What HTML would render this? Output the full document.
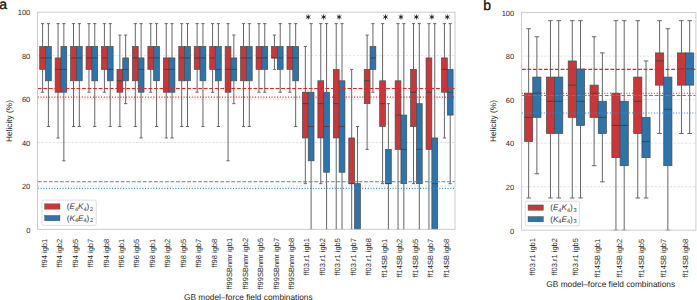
<!DOCTYPE html>
<html><head><meta charset="utf-8"><style>
html,body{margin:0;padding:0;background:#fff;width:697px;height:300px;overflow:hidden}
svg{display:block}
text{font-family:"Liberation Sans",sans-serif;fill:#262626;text-rendering:geometricPrecision;font-variant-ligatures:none}
.tk{font-size:7.5px}
.at{font-size:8.3px}
.lg{font-size:8.1px;fill:#333}
.sb{font-size:5.6px}
.pl{font-size:14px;fill:#111;stroke:#111;stroke-width:0.35px}
.st{font-size:11px;fill:#222}
</style></head><body>
<svg width="697" height="300" viewBox="0 0 697 300">
<rect width="697" height="300" fill="#fff"/>
<text x="-0.7" y="8.6" class="pl">a</text>
<text x="483.3" y="9.6" class="pl">b</text>
<line x1="37.50" y1="185.96" x2="455.00" y2="185.96" stroke="#dddddd" stroke-width="0.9" stroke-dasharray="2.3 1.5"/>
<line x1="37.50" y1="142.52" x2="455.00" y2="142.52" stroke="#dddddd" stroke-width="0.9" stroke-dasharray="2.3 1.5"/>
<line x1="37.50" y1="99.08" x2="455.00" y2="99.08" stroke="#dddddd" stroke-width="0.9" stroke-dasharray="2.3 1.5"/>
<line x1="37.50" y1="55.64" x2="455.00" y2="55.64" stroke="#dddddd" stroke-width="0.9" stroke-dasharray="2.3 1.5"/>
<line x1="42.60" y1="23.63" x2="42.60" y2="46.49" stroke="#666666" stroke-width="1"/>
<line x1="42.60" y1="69.36" x2="42.60" y2="92.22" stroke="#666666" stroke-width="1"/>
<line x1="41.00" y1="23.63" x2="44.20" y2="23.63" stroke="#666666" stroke-width="1"/>
<line x1="41.00" y1="92.22" x2="44.20" y2="92.22" stroke="#666666" stroke-width="1"/>
<rect x="39.70" y="46.49" width="5.80" height="22.86" fill="#c8383a" stroke="#4a4a4a" stroke-width="0.7"/>
<line x1="39.70" y1="57.93" x2="45.50" y2="57.93" stroke="#3f3f3f" stroke-width="0.9"/>
<line x1="48.40" y1="23.63" x2="48.40" y2="46.49" stroke="#666666" stroke-width="1"/>
<line x1="48.40" y1="80.79" x2="48.40" y2="126.52" stroke="#666666" stroke-width="1"/>
<line x1="46.80" y1="23.63" x2="50.00" y2="23.63" stroke="#666666" stroke-width="1"/>
<line x1="46.80" y1="126.52" x2="50.00" y2="126.52" stroke="#666666" stroke-width="1"/>
<rect x="45.50" y="46.49" width="5.80" height="34.29" fill="#2d74ab" stroke="#4a4a4a" stroke-width="0.7"/>
<line x1="45.50" y1="57.93" x2="51.30" y2="57.93" stroke="#3f3f3f" stroke-width="0.9"/>
<line x1="58.05" y1="23.63" x2="58.05" y2="57.93" stroke="#666666" stroke-width="1"/>
<line x1="58.05" y1="92.22" x2="58.05" y2="137.95" stroke="#666666" stroke-width="1"/>
<line x1="56.45" y1="23.63" x2="59.65" y2="23.63" stroke="#666666" stroke-width="1"/>
<line x1="56.45" y1="137.95" x2="59.65" y2="137.95" stroke="#666666" stroke-width="1"/>
<rect x="55.15" y="57.93" width="5.80" height="34.29" fill="#c8383a" stroke="#4a4a4a" stroke-width="0.7"/>
<line x1="55.15" y1="69.36" x2="60.95" y2="69.36" stroke="#3f3f3f" stroke-width="0.9"/>
<line x1="63.85" y1="23.63" x2="63.85" y2="46.49" stroke="#666666" stroke-width="1"/>
<line x1="63.85" y1="92.22" x2="63.85" y2="160.81" stroke="#666666" stroke-width="1"/>
<line x1="62.25" y1="23.63" x2="65.45" y2="23.63" stroke="#666666" stroke-width="1"/>
<line x1="62.25" y1="160.81" x2="65.45" y2="160.81" stroke="#666666" stroke-width="1"/>
<rect x="60.95" y="46.49" width="5.80" height="45.73" fill="#2d74ab" stroke="#4a4a4a" stroke-width="0.7"/>
<line x1="60.95" y1="69.36" x2="66.75" y2="69.36" stroke="#3f3f3f" stroke-width="0.9"/>
<line x1="73.51" y1="23.63" x2="73.51" y2="46.49" stroke="#666666" stroke-width="1"/>
<line x1="73.51" y1="80.79" x2="73.51" y2="126.52" stroke="#666666" stroke-width="1"/>
<line x1="71.91" y1="23.63" x2="75.11" y2="23.63" stroke="#666666" stroke-width="1"/>
<line x1="71.91" y1="126.52" x2="75.11" y2="126.52" stroke="#666666" stroke-width="1"/>
<rect x="70.61" y="46.49" width="5.80" height="34.29" fill="#c8383a" stroke="#4a4a4a" stroke-width="0.7"/>
<line x1="70.61" y1="57.93" x2="76.41" y2="57.93" stroke="#3f3f3f" stroke-width="0.9"/>
<line x1="79.31" y1="23.63" x2="79.31" y2="46.49" stroke="#666666" stroke-width="1"/>
<line x1="79.31" y1="80.79" x2="79.31" y2="126.52" stroke="#666666" stroke-width="1"/>
<line x1="77.71" y1="23.63" x2="80.91" y2="23.63" stroke="#666666" stroke-width="1"/>
<line x1="77.71" y1="126.52" x2="80.91" y2="126.52" stroke="#666666" stroke-width="1"/>
<rect x="76.41" y="46.49" width="5.80" height="34.29" fill="#2d74ab" stroke="#4a4a4a" stroke-width="0.7"/>
<line x1="76.41" y1="57.93" x2="82.21" y2="57.93" stroke="#3f3f3f" stroke-width="0.9"/>
<line x1="88.96" y1="23.63" x2="88.96" y2="46.49" stroke="#666666" stroke-width="1"/>
<line x1="88.96" y1="69.36" x2="88.96" y2="92.22" stroke="#666666" stroke-width="1"/>
<line x1="87.36" y1="23.63" x2="90.56" y2="23.63" stroke="#666666" stroke-width="1"/>
<line x1="87.36" y1="92.22" x2="90.56" y2="92.22" stroke="#666666" stroke-width="1"/>
<rect x="86.06" y="46.49" width="5.80" height="22.86" fill="#c8383a" stroke="#4a4a4a" stroke-width="0.7"/>
<line x1="86.06" y1="57.93" x2="91.86" y2="57.93" stroke="#3f3f3f" stroke-width="0.9"/>
<line x1="94.76" y1="23.63" x2="94.76" y2="46.49" stroke="#666666" stroke-width="1"/>
<line x1="94.76" y1="80.79" x2="94.76" y2="126.52" stroke="#666666" stroke-width="1"/>
<line x1="93.16" y1="23.63" x2="96.36" y2="23.63" stroke="#666666" stroke-width="1"/>
<line x1="93.16" y1="126.52" x2="96.36" y2="126.52" stroke="#666666" stroke-width="1"/>
<rect x="91.86" y="46.49" width="5.80" height="34.29" fill="#2d74ab" stroke="#4a4a4a" stroke-width="0.7"/>
<line x1="91.86" y1="57.93" x2="97.66" y2="57.93" stroke="#3f3f3f" stroke-width="0.9"/>
<line x1="104.42" y1="23.63" x2="104.42" y2="46.49" stroke="#666666" stroke-width="1"/>
<line x1="104.42" y1="69.36" x2="104.42" y2="92.22" stroke="#666666" stroke-width="1"/>
<line x1="102.82" y1="23.63" x2="106.02" y2="23.63" stroke="#666666" stroke-width="1"/>
<line x1="102.82" y1="92.22" x2="106.02" y2="92.22" stroke="#666666" stroke-width="1"/>
<rect x="101.52" y="46.49" width="5.80" height="22.86" fill="#c8383a" stroke="#4a4a4a" stroke-width="0.7"/>
<line x1="101.52" y1="57.93" x2="107.32" y2="57.93" stroke="#3f3f3f" stroke-width="0.9"/>
<line x1="110.22" y1="23.63" x2="110.22" y2="46.49" stroke="#666666" stroke-width="1"/>
<line x1="110.22" y1="80.79" x2="110.22" y2="126.52" stroke="#666666" stroke-width="1"/>
<line x1="108.62" y1="23.63" x2="111.82" y2="23.63" stroke="#666666" stroke-width="1"/>
<line x1="108.62" y1="126.52" x2="111.82" y2="126.52" stroke="#666666" stroke-width="1"/>
<rect x="107.32" y="46.49" width="5.80" height="34.29" fill="#2d74ab" stroke="#4a4a4a" stroke-width="0.7"/>
<line x1="107.32" y1="69.36" x2="113.12" y2="69.36" stroke="#3f3f3f" stroke-width="0.9"/>
<line x1="119.87" y1="35.06" x2="119.87" y2="69.36" stroke="#666666" stroke-width="1"/>
<line x1="119.87" y1="92.22" x2="119.87" y2="126.52" stroke="#666666" stroke-width="1"/>
<line x1="118.27" y1="35.06" x2="121.47" y2="35.06" stroke="#666666" stroke-width="1"/>
<line x1="118.27" y1="126.52" x2="121.47" y2="126.52" stroke="#666666" stroke-width="1"/>
<rect x="116.97" y="69.36" width="5.80" height="22.86" fill="#c8383a" stroke="#4a4a4a" stroke-width="0.7"/>
<line x1="116.97" y1="80.79" x2="122.77" y2="80.79" stroke="#3f3f3f" stroke-width="0.9"/>
<line x1="125.67" y1="35.06" x2="125.67" y2="57.93" stroke="#666666" stroke-width="1"/>
<line x1="125.67" y1="80.79" x2="125.67" y2="103.65" stroke="#666666" stroke-width="1"/>
<line x1="124.07" y1="35.06" x2="127.27" y2="35.06" stroke="#666666" stroke-width="1"/>
<line x1="124.07" y1="103.65" x2="127.27" y2="103.65" stroke="#666666" stroke-width="1"/>
<rect x="122.77" y="57.93" width="5.80" height="22.86" fill="#2d74ab" stroke="#4a4a4a" stroke-width="0.7"/>
<line x1="122.77" y1="69.36" x2="128.57" y2="69.36" stroke="#3f3f3f" stroke-width="0.9"/>
<line x1="135.32" y1="23.63" x2="135.32" y2="46.49" stroke="#666666" stroke-width="1"/>
<line x1="135.32" y1="80.79" x2="135.32" y2="126.52" stroke="#666666" stroke-width="1"/>
<line x1="133.72" y1="23.63" x2="136.92" y2="23.63" stroke="#666666" stroke-width="1"/>
<line x1="133.72" y1="126.52" x2="136.92" y2="126.52" stroke="#666666" stroke-width="1"/>
<rect x="132.42" y="46.49" width="5.80" height="34.29" fill="#c8383a" stroke="#4a4a4a" stroke-width="0.7"/>
<line x1="132.42" y1="57.93" x2="138.22" y2="57.93" stroke="#3f3f3f" stroke-width="0.9"/>
<line x1="141.12" y1="23.63" x2="141.12" y2="57.93" stroke="#666666" stroke-width="1"/>
<line x1="141.12" y1="92.22" x2="141.12" y2="137.95" stroke="#666666" stroke-width="1"/>
<line x1="139.52" y1="23.63" x2="142.72" y2="23.63" stroke="#666666" stroke-width="1"/>
<line x1="139.52" y1="137.95" x2="142.72" y2="137.95" stroke="#666666" stroke-width="1"/>
<rect x="138.22" y="57.93" width="5.80" height="34.29" fill="#2d74ab" stroke="#4a4a4a" stroke-width="0.7"/>
<line x1="138.22" y1="69.36" x2="144.02" y2="69.36" stroke="#3f3f3f" stroke-width="0.9"/>
<line x1="150.78" y1="23.63" x2="150.78" y2="46.49" stroke="#666666" stroke-width="1"/>
<line x1="150.78" y1="69.36" x2="150.78" y2="92.22" stroke="#666666" stroke-width="1"/>
<line x1="149.18" y1="23.63" x2="152.38" y2="23.63" stroke="#666666" stroke-width="1"/>
<line x1="149.18" y1="92.22" x2="152.38" y2="92.22" stroke="#666666" stroke-width="1"/>
<rect x="147.88" y="46.49" width="5.80" height="22.86" fill="#c8383a" stroke="#4a4a4a" stroke-width="0.7"/>
<line x1="147.88" y1="57.93" x2="153.68" y2="57.93" stroke="#3f3f3f" stroke-width="0.9"/>
<line x1="156.58" y1="23.63" x2="156.58" y2="46.49" stroke="#666666" stroke-width="1"/>
<line x1="156.58" y1="80.79" x2="156.58" y2="126.52" stroke="#666666" stroke-width="1"/>
<line x1="154.98" y1="23.63" x2="158.18" y2="23.63" stroke="#666666" stroke-width="1"/>
<line x1="154.98" y1="126.52" x2="158.18" y2="126.52" stroke="#666666" stroke-width="1"/>
<rect x="153.68" y="46.49" width="5.80" height="34.29" fill="#2d74ab" stroke="#4a4a4a" stroke-width="0.7"/>
<line x1="153.68" y1="57.93" x2="159.48" y2="57.93" stroke="#3f3f3f" stroke-width="0.9"/>
<line x1="166.23" y1="23.63" x2="166.23" y2="57.93" stroke="#666666" stroke-width="1"/>
<line x1="166.23" y1="92.22" x2="166.23" y2="137.95" stroke="#666666" stroke-width="1"/>
<line x1="164.63" y1="23.63" x2="167.83" y2="23.63" stroke="#666666" stroke-width="1"/>
<line x1="164.63" y1="137.95" x2="167.83" y2="137.95" stroke="#666666" stroke-width="1"/>
<rect x="163.33" y="57.93" width="5.80" height="34.29" fill="#c8383a" stroke="#4a4a4a" stroke-width="0.7"/>
<line x1="163.33" y1="69.36" x2="169.13" y2="69.36" stroke="#3f3f3f" stroke-width="0.9"/>
<line x1="172.03" y1="23.63" x2="172.03" y2="57.93" stroke="#666666" stroke-width="1"/>
<line x1="172.03" y1="92.22" x2="172.03" y2="137.95" stroke="#666666" stroke-width="1"/>
<line x1="170.43" y1="23.63" x2="173.63" y2="23.63" stroke="#666666" stroke-width="1"/>
<line x1="170.43" y1="137.95" x2="173.63" y2="137.95" stroke="#666666" stroke-width="1"/>
<rect x="169.13" y="57.93" width="5.80" height="34.29" fill="#2d74ab" stroke="#4a4a4a" stroke-width="0.7"/>
<line x1="169.13" y1="69.36" x2="174.93" y2="69.36" stroke="#3f3f3f" stroke-width="0.9"/>
<line x1="181.69" y1="23.63" x2="181.69" y2="46.49" stroke="#666666" stroke-width="1"/>
<line x1="181.69" y1="80.79" x2="181.69" y2="126.52" stroke="#666666" stroke-width="1"/>
<line x1="180.09" y1="23.63" x2="183.29" y2="23.63" stroke="#666666" stroke-width="1"/>
<line x1="180.09" y1="126.52" x2="183.29" y2="126.52" stroke="#666666" stroke-width="1"/>
<rect x="178.79" y="46.49" width="5.80" height="34.29" fill="#c8383a" stroke="#4a4a4a" stroke-width="0.7"/>
<line x1="178.79" y1="57.93" x2="184.59" y2="57.93" stroke="#3f3f3f" stroke-width="0.9"/>
<line x1="187.49" y1="23.63" x2="187.49" y2="46.49" stroke="#666666" stroke-width="1"/>
<line x1="187.49" y1="80.79" x2="187.49" y2="126.52" stroke="#666666" stroke-width="1"/>
<line x1="185.89" y1="23.63" x2="189.09" y2="23.63" stroke="#666666" stroke-width="1"/>
<line x1="185.89" y1="126.52" x2="189.09" y2="126.52" stroke="#666666" stroke-width="1"/>
<rect x="184.59" y="46.49" width="5.80" height="34.29" fill="#2d74ab" stroke="#4a4a4a" stroke-width="0.7"/>
<line x1="184.59" y1="57.93" x2="190.39" y2="57.93" stroke="#3f3f3f" stroke-width="0.9"/>
<line x1="197.14" y1="23.63" x2="197.14" y2="46.49" stroke="#666666" stroke-width="1"/>
<line x1="197.14" y1="69.36" x2="197.14" y2="92.22" stroke="#666666" stroke-width="1"/>
<line x1="195.54" y1="23.63" x2="198.74" y2="23.63" stroke="#666666" stroke-width="1"/>
<line x1="195.54" y1="92.22" x2="198.74" y2="92.22" stroke="#666666" stroke-width="1"/>
<rect x="194.24" y="46.49" width="5.80" height="22.86" fill="#c8383a" stroke="#4a4a4a" stroke-width="0.7"/>
<line x1="194.24" y1="57.93" x2="200.04" y2="57.93" stroke="#3f3f3f" stroke-width="0.9"/>
<line x1="202.94" y1="23.63" x2="202.94" y2="46.49" stroke="#666666" stroke-width="1"/>
<line x1="202.94" y1="80.79" x2="202.94" y2="126.52" stroke="#666666" stroke-width="1"/>
<line x1="201.34" y1="23.63" x2="204.54" y2="23.63" stroke="#666666" stroke-width="1"/>
<line x1="201.34" y1="126.52" x2="204.54" y2="126.52" stroke="#666666" stroke-width="1"/>
<rect x="200.04" y="46.49" width="5.80" height="34.29" fill="#2d74ab" stroke="#4a4a4a" stroke-width="0.7"/>
<line x1="200.04" y1="57.93" x2="205.84" y2="57.93" stroke="#3f3f3f" stroke-width="0.9"/>
<line x1="212.59" y1="23.63" x2="212.59" y2="46.49" stroke="#666666" stroke-width="1"/>
<line x1="212.59" y1="69.36" x2="212.59" y2="92.22" stroke="#666666" stroke-width="1"/>
<line x1="210.99" y1="23.63" x2="214.19" y2="23.63" stroke="#666666" stroke-width="1"/>
<line x1="210.99" y1="92.22" x2="214.19" y2="92.22" stroke="#666666" stroke-width="1"/>
<rect x="209.69" y="46.49" width="5.80" height="22.86" fill="#c8383a" stroke="#4a4a4a" stroke-width="0.7"/>
<line x1="209.69" y1="57.93" x2="215.49" y2="57.93" stroke="#3f3f3f" stroke-width="0.9"/>
<line x1="218.39" y1="23.63" x2="218.39" y2="46.49" stroke="#666666" stroke-width="1"/>
<line x1="218.39" y1="80.79" x2="218.39" y2="126.52" stroke="#666666" stroke-width="1"/>
<line x1="216.79" y1="23.63" x2="219.99" y2="23.63" stroke="#666666" stroke-width="1"/>
<line x1="216.79" y1="126.52" x2="219.99" y2="126.52" stroke="#666666" stroke-width="1"/>
<rect x="215.49" y="46.49" width="5.80" height="34.29" fill="#2d74ab" stroke="#4a4a4a" stroke-width="0.7"/>
<line x1="215.49" y1="69.36" x2="221.29" y2="69.36" stroke="#3f3f3f" stroke-width="0.9"/>
<line x1="228.05" y1="23.63" x2="228.05" y2="46.49" stroke="#666666" stroke-width="1"/>
<line x1="228.05" y1="92.22" x2="228.05" y2="160.81" stroke="#666666" stroke-width="1"/>
<line x1="226.45" y1="23.63" x2="229.65" y2="23.63" stroke="#666666" stroke-width="1"/>
<line x1="226.45" y1="160.81" x2="229.65" y2="160.81" stroke="#666666" stroke-width="1"/>
<rect x="225.15" y="46.49" width="5.80" height="45.73" fill="#c8383a" stroke="#4a4a4a" stroke-width="0.7"/>
<line x1="225.15" y1="69.36" x2="230.95" y2="69.36" stroke="#3f3f3f" stroke-width="0.9"/>
<line x1="233.85" y1="35.06" x2="233.85" y2="57.93" stroke="#666666" stroke-width="1"/>
<line x1="233.85" y1="80.79" x2="233.85" y2="103.65" stroke="#666666" stroke-width="1"/>
<line x1="232.25" y1="35.06" x2="235.45" y2="35.06" stroke="#666666" stroke-width="1"/>
<line x1="232.25" y1="103.65" x2="235.45" y2="103.65" stroke="#666666" stroke-width="1"/>
<rect x="230.95" y="57.93" width="5.80" height="22.86" fill="#2d74ab" stroke="#4a4a4a" stroke-width="0.7"/>
<line x1="230.95" y1="69.36" x2="236.75" y2="69.36" stroke="#3f3f3f" stroke-width="0.9"/>
<line x1="243.50" y1="23.63" x2="243.50" y2="46.49" stroke="#666666" stroke-width="1"/>
<line x1="243.50" y1="80.79" x2="243.50" y2="126.52" stroke="#666666" stroke-width="1"/>
<line x1="241.90" y1="23.63" x2="245.10" y2="23.63" stroke="#666666" stroke-width="1"/>
<line x1="241.90" y1="126.52" x2="245.10" y2="126.52" stroke="#666666" stroke-width="1"/>
<rect x="240.60" y="46.49" width="5.80" height="34.29" fill="#c8383a" stroke="#4a4a4a" stroke-width="0.7"/>
<line x1="240.60" y1="57.93" x2="246.40" y2="57.93" stroke="#3f3f3f" stroke-width="0.9"/>
<line x1="249.30" y1="23.63" x2="249.30" y2="46.49" stroke="#666666" stroke-width="1"/>
<line x1="249.30" y1="80.79" x2="249.30" y2="126.52" stroke="#666666" stroke-width="1"/>
<line x1="247.70" y1="23.63" x2="250.90" y2="23.63" stroke="#666666" stroke-width="1"/>
<line x1="247.70" y1="126.52" x2="250.90" y2="126.52" stroke="#666666" stroke-width="1"/>
<rect x="246.40" y="46.49" width="5.80" height="34.29" fill="#2d74ab" stroke="#4a4a4a" stroke-width="0.7"/>
<line x1="246.40" y1="57.93" x2="252.20" y2="57.93" stroke="#3f3f3f" stroke-width="0.9"/>
<line x1="258.96" y1="23.63" x2="258.96" y2="46.49" stroke="#666666" stroke-width="1"/>
<line x1="258.96" y1="69.36" x2="258.96" y2="92.22" stroke="#666666" stroke-width="1"/>
<line x1="257.36" y1="23.63" x2="260.56" y2="23.63" stroke="#666666" stroke-width="1"/>
<line x1="257.36" y1="92.22" x2="260.56" y2="92.22" stroke="#666666" stroke-width="1"/>
<rect x="256.06" y="46.49" width="5.80" height="22.86" fill="#c8383a" stroke="#4a4a4a" stroke-width="0.7"/>
<line x1="256.06" y1="57.93" x2="261.86" y2="57.93" stroke="#3f3f3f" stroke-width="0.9"/>
<line x1="264.76" y1="23.63" x2="264.76" y2="46.49" stroke="#666666" stroke-width="1"/>
<line x1="264.76" y1="69.36" x2="264.76" y2="92.22" stroke="#666666" stroke-width="1"/>
<line x1="263.16" y1="23.63" x2="266.36" y2="23.63" stroke="#666666" stroke-width="1"/>
<line x1="263.16" y1="92.22" x2="266.36" y2="92.22" stroke="#666666" stroke-width="1"/>
<rect x="261.86" y="46.49" width="5.80" height="22.86" fill="#2d74ab" stroke="#4a4a4a" stroke-width="0.7"/>
<line x1="261.86" y1="57.93" x2="267.66" y2="57.93" stroke="#3f3f3f" stroke-width="0.9"/>
<line x1="274.41" y1="35.06" x2="274.41" y2="46.49" stroke="#666666" stroke-width="1"/>
<line x1="274.41" y1="57.93" x2="274.41" y2="69.36" stroke="#666666" stroke-width="1"/>
<line x1="272.81" y1="35.06" x2="276.01" y2="35.06" stroke="#666666" stroke-width="1"/>
<line x1="272.81" y1="69.36" x2="276.01" y2="69.36" stroke="#666666" stroke-width="1"/>
<rect x="271.51" y="46.49" width="5.80" height="11.43" fill="#c8383a" stroke="#4a4a4a" stroke-width="0.7"/>
<line x1="271.51" y1="57.93" x2="277.31" y2="57.93" stroke="#3f3f3f" stroke-width="0.9"/>
<line x1="280.21" y1="23.63" x2="280.21" y2="46.49" stroke="#666666" stroke-width="1"/>
<line x1="280.21" y1="69.36" x2="280.21" y2="92.22" stroke="#666666" stroke-width="1"/>
<line x1="278.61" y1="23.63" x2="281.81" y2="23.63" stroke="#666666" stroke-width="1"/>
<line x1="278.61" y1="92.22" x2="281.81" y2="92.22" stroke="#666666" stroke-width="1"/>
<rect x="277.31" y="46.49" width="5.80" height="22.86" fill="#2d74ab" stroke="#4a4a4a" stroke-width="0.7"/>
<line x1="277.31" y1="57.93" x2="283.11" y2="57.93" stroke="#3f3f3f" stroke-width="0.9"/>
<line x1="289.86" y1="23.63" x2="289.86" y2="46.49" stroke="#666666" stroke-width="1"/>
<line x1="289.86" y1="69.36" x2="289.86" y2="92.22" stroke="#666666" stroke-width="1"/>
<line x1="288.26" y1="23.63" x2="291.46" y2="23.63" stroke="#666666" stroke-width="1"/>
<line x1="288.26" y1="92.22" x2="291.46" y2="92.22" stroke="#666666" stroke-width="1"/>
<rect x="286.96" y="46.49" width="5.80" height="22.86" fill="#c8383a" stroke="#4a4a4a" stroke-width="0.7"/>
<line x1="286.96" y1="57.93" x2="292.76" y2="57.93" stroke="#3f3f3f" stroke-width="0.9"/>
<line x1="295.66" y1="23.63" x2="295.66" y2="46.49" stroke="#666666" stroke-width="1"/>
<line x1="295.66" y1="80.79" x2="295.66" y2="126.52" stroke="#666666" stroke-width="1"/>
<line x1="294.06" y1="23.63" x2="297.26" y2="23.63" stroke="#666666" stroke-width="1"/>
<line x1="294.06" y1="126.52" x2="297.26" y2="126.52" stroke="#666666" stroke-width="1"/>
<rect x="292.76" y="46.49" width="5.80" height="34.29" fill="#2d74ab" stroke="#4a4a4a" stroke-width="0.7"/>
<line x1="292.76" y1="57.93" x2="298.56" y2="57.93" stroke="#3f3f3f" stroke-width="0.9"/>
<line x1="305.32" y1="46.49" x2="305.32" y2="92.22" stroke="#666666" stroke-width="1"/>
<line x1="305.32" y1="137.95" x2="305.32" y2="183.67" stroke="#666666" stroke-width="1"/>
<line x1="303.72" y1="46.49" x2="306.92" y2="46.49" stroke="#666666" stroke-width="1"/>
<line x1="303.72" y1="183.67" x2="306.92" y2="183.67" stroke="#666666" stroke-width="1"/>
<rect x="302.42" y="92.22" width="5.80" height="45.73" fill="#c8383a" stroke="#4a4a4a" stroke-width="0.7"/>
<line x1="302.42" y1="103.65" x2="308.22" y2="103.65" stroke="#3f3f3f" stroke-width="0.9"/>
<line x1="311.12" y1="23.63" x2="311.12" y2="92.22" stroke="#666666" stroke-width="1"/>
<line x1="311.12" y1="160.81" x2="311.12" y2="229.40" stroke="#666666" stroke-width="1"/>
<line x1="309.52" y1="23.63" x2="312.72" y2="23.63" stroke="#666666" stroke-width="1"/>
<line x1="309.52" y1="229.40" x2="312.72" y2="229.40" stroke="#666666" stroke-width="1"/>
<rect x="308.22" y="92.22" width="5.80" height="68.59" fill="#2d74ab" stroke="#4a4a4a" stroke-width="0.7"/>
<line x1="308.22" y1="126.52" x2="314.02" y2="126.52" stroke="#3f3f3f" stroke-width="0.9"/>
<line x1="320.77" y1="23.63" x2="320.77" y2="80.79" stroke="#666666" stroke-width="1"/>
<line x1="320.77" y1="137.95" x2="320.77" y2="183.67" stroke="#666666" stroke-width="1"/>
<line x1="319.17" y1="23.63" x2="322.37" y2="23.63" stroke="#666666" stroke-width="1"/>
<line x1="319.17" y1="183.67" x2="322.37" y2="183.67" stroke="#666666" stroke-width="1"/>
<rect x="317.87" y="80.79" width="5.80" height="57.16" fill="#c8383a" stroke="#4a4a4a" stroke-width="0.7"/>
<line x1="317.87" y1="103.65" x2="323.67" y2="103.65" stroke="#3f3f3f" stroke-width="0.9"/>
<line x1="326.57" y1="23.63" x2="326.57" y2="92.22" stroke="#666666" stroke-width="1"/>
<line x1="326.57" y1="172.24" x2="326.57" y2="229.40" stroke="#666666" stroke-width="1"/>
<line x1="324.97" y1="23.63" x2="328.17" y2="23.63" stroke="#666666" stroke-width="1"/>
<line x1="324.97" y1="229.40" x2="328.17" y2="229.40" stroke="#666666" stroke-width="1"/>
<rect x="323.67" y="92.22" width="5.80" height="80.02" fill="#2d74ab" stroke="#4a4a4a" stroke-width="0.7"/>
<line x1="323.67" y1="126.52" x2="329.47" y2="126.52" stroke="#3f3f3f" stroke-width="0.9"/>
<line x1="336.23" y1="23.63" x2="336.23" y2="69.36" stroke="#666666" stroke-width="1"/>
<line x1="336.23" y1="137.95" x2="336.23" y2="229.40" stroke="#666666" stroke-width="1"/>
<line x1="334.63" y1="23.63" x2="337.83" y2="23.63" stroke="#666666" stroke-width="1"/>
<line x1="334.63" y1="229.40" x2="337.83" y2="229.40" stroke="#666666" stroke-width="1"/>
<rect x="333.33" y="69.36" width="5.80" height="68.59" fill="#c8383a" stroke="#4a4a4a" stroke-width="0.7"/>
<line x1="333.33" y1="103.65" x2="339.13" y2="103.65" stroke="#3f3f3f" stroke-width="0.9"/>
<line x1="342.03" y1="23.63" x2="342.03" y2="80.79" stroke="#666666" stroke-width="1"/>
<line x1="342.03" y1="172.24" x2="342.03" y2="229.40" stroke="#666666" stroke-width="1"/>
<line x1="340.43" y1="23.63" x2="343.63" y2="23.63" stroke="#666666" stroke-width="1"/>
<line x1="340.43" y1="229.40" x2="343.63" y2="229.40" stroke="#666666" stroke-width="1"/>
<rect x="339.13" y="80.79" width="5.80" height="91.45" fill="#2d74ab" stroke="#4a4a4a" stroke-width="0.7"/>
<line x1="339.13" y1="126.52" x2="344.93" y2="126.52" stroke="#3f3f3f" stroke-width="0.9"/>
<line x1="351.68" y1="69.36" x2="351.68" y2="137.95" stroke="#666666" stroke-width="1"/>
<line x1="351.68" y1="183.67" x2="351.68" y2="229.40" stroke="#666666" stroke-width="1"/>
<line x1="350.08" y1="69.36" x2="353.28" y2="69.36" stroke="#666666" stroke-width="1"/>
<line x1="350.08" y1="229.40" x2="353.28" y2="229.40" stroke="#666666" stroke-width="1"/>
<rect x="348.78" y="137.95" width="5.80" height="45.73" fill="#c8383a" stroke="#4a4a4a" stroke-width="0.7"/>
<line x1="348.78" y1="183.67" x2="354.58" y2="183.67" stroke="#3f3f3f" stroke-width="0.9"/>
<line x1="357.48" y1="126.52" x2="357.48" y2="183.67" stroke="#666666" stroke-width="1"/>
<line x1="357.48" y1="229.40" x2="357.48" y2="229.40" stroke="#666666" stroke-width="1"/>
<line x1="355.88" y1="126.52" x2="359.08" y2="126.52" stroke="#666666" stroke-width="1"/>
<line x1="355.88" y1="229.40" x2="359.08" y2="229.40" stroke="#666666" stroke-width="1"/>
<rect x="354.58" y="183.67" width="5.80" height="45.73" fill="#2d74ab" stroke="#4a4a4a" stroke-width="0.7"/>
<line x1="354.58" y1="229.40" x2="360.38" y2="229.40" stroke="#3f3f3f" stroke-width="0.9"/>
<line x1="367.13" y1="35.06" x2="367.13" y2="69.36" stroke="#666666" stroke-width="1"/>
<line x1="367.13" y1="103.65" x2="367.13" y2="149.38" stroke="#666666" stroke-width="1"/>
<line x1="365.53" y1="35.06" x2="368.73" y2="35.06" stroke="#666666" stroke-width="1"/>
<line x1="365.53" y1="149.38" x2="368.73" y2="149.38" stroke="#666666" stroke-width="1"/>
<rect x="364.23" y="69.36" width="5.80" height="34.29" fill="#c8383a" stroke="#4a4a4a" stroke-width="0.7"/>
<line x1="364.23" y1="80.79" x2="370.03" y2="80.79" stroke="#3f3f3f" stroke-width="0.9"/>
<line x1="372.93" y1="23.63" x2="372.93" y2="46.49" stroke="#666666" stroke-width="1"/>
<line x1="372.93" y1="69.36" x2="372.93" y2="92.22" stroke="#666666" stroke-width="1"/>
<line x1="371.33" y1="23.63" x2="374.53" y2="23.63" stroke="#666666" stroke-width="1"/>
<line x1="371.33" y1="92.22" x2="374.53" y2="92.22" stroke="#666666" stroke-width="1"/>
<rect x="370.03" y="46.49" width="5.80" height="22.86" fill="#2d74ab" stroke="#4a4a4a" stroke-width="0.7"/>
<line x1="370.03" y1="57.93" x2="375.83" y2="57.93" stroke="#3f3f3f" stroke-width="0.9"/>
<line x1="382.59" y1="23.63" x2="382.59" y2="80.79" stroke="#666666" stroke-width="1"/>
<line x1="382.59" y1="126.52" x2="382.59" y2="183.67" stroke="#666666" stroke-width="1"/>
<line x1="380.99" y1="23.63" x2="384.19" y2="23.63" stroke="#666666" stroke-width="1"/>
<line x1="380.99" y1="183.67" x2="384.19" y2="183.67" stroke="#666666" stroke-width="1"/>
<rect x="379.69" y="80.79" width="5.80" height="45.73" fill="#c8383a" stroke="#4a4a4a" stroke-width="0.7"/>
<line x1="379.69" y1="103.65" x2="385.49" y2="103.65" stroke="#3f3f3f" stroke-width="0.9"/>
<line x1="388.39" y1="103.65" x2="388.39" y2="149.38" stroke="#666666" stroke-width="1"/>
<line x1="388.39" y1="183.67" x2="388.39" y2="229.40" stroke="#666666" stroke-width="1"/>
<line x1="386.79" y1="103.65" x2="389.99" y2="103.65" stroke="#666666" stroke-width="1"/>
<line x1="386.79" y1="229.40" x2="389.99" y2="229.40" stroke="#666666" stroke-width="1"/>
<rect x="385.49" y="149.38" width="5.80" height="34.29" fill="#2d74ab" stroke="#4a4a4a" stroke-width="0.7"/>
<line x1="385.49" y1="183.67" x2="391.29" y2="183.67" stroke="#3f3f3f" stroke-width="0.9"/>
<line x1="398.04" y1="23.63" x2="398.04" y2="80.79" stroke="#666666" stroke-width="1"/>
<line x1="398.04" y1="149.38" x2="398.04" y2="229.40" stroke="#666666" stroke-width="1"/>
<line x1="396.44" y1="23.63" x2="399.64" y2="23.63" stroke="#666666" stroke-width="1"/>
<line x1="396.44" y1="229.40" x2="399.64" y2="229.40" stroke="#666666" stroke-width="1"/>
<rect x="395.14" y="80.79" width="5.80" height="68.59" fill="#c8383a" stroke="#4a4a4a" stroke-width="0.7"/>
<line x1="395.14" y1="115.08" x2="400.94" y2="115.08" stroke="#3f3f3f" stroke-width="0.9"/>
<line x1="403.84" y1="23.63" x2="403.84" y2="115.08" stroke="#666666" stroke-width="1"/>
<line x1="403.84" y1="183.67" x2="403.84" y2="229.40" stroke="#666666" stroke-width="1"/>
<line x1="402.24" y1="23.63" x2="405.44" y2="23.63" stroke="#666666" stroke-width="1"/>
<line x1="402.24" y1="229.40" x2="405.44" y2="229.40" stroke="#666666" stroke-width="1"/>
<rect x="400.94" y="115.08" width="5.80" height="68.59" fill="#2d74ab" stroke="#4a4a4a" stroke-width="0.7"/>
<line x1="400.94" y1="149.38" x2="406.74" y2="149.38" stroke="#3f3f3f" stroke-width="0.9"/>
<line x1="413.50" y1="23.63" x2="413.50" y2="69.36" stroke="#666666" stroke-width="1"/>
<line x1="413.50" y1="126.52" x2="413.50" y2="183.67" stroke="#666666" stroke-width="1"/>
<line x1="411.90" y1="23.63" x2="415.10" y2="23.63" stroke="#666666" stroke-width="1"/>
<line x1="411.90" y1="183.67" x2="415.10" y2="183.67" stroke="#666666" stroke-width="1"/>
<rect x="410.60" y="69.36" width="5.80" height="57.16" fill="#c8383a" stroke="#4a4a4a" stroke-width="0.7"/>
<line x1="410.60" y1="92.22" x2="416.40" y2="92.22" stroke="#3f3f3f" stroke-width="0.9"/>
<line x1="419.30" y1="23.63" x2="419.30" y2="103.65" stroke="#666666" stroke-width="1"/>
<line x1="419.30" y1="183.67" x2="419.30" y2="229.40" stroke="#666666" stroke-width="1"/>
<line x1="417.70" y1="23.63" x2="420.90" y2="23.63" stroke="#666666" stroke-width="1"/>
<line x1="417.70" y1="229.40" x2="420.90" y2="229.40" stroke="#666666" stroke-width="1"/>
<rect x="416.40" y="103.65" width="5.80" height="80.02" fill="#2d74ab" stroke="#4a4a4a" stroke-width="0.7"/>
<line x1="416.40" y1="149.38" x2="422.20" y2="149.38" stroke="#3f3f3f" stroke-width="0.9"/>
<line x1="428.95" y1="23.63" x2="428.95" y2="57.93" stroke="#666666" stroke-width="1"/>
<line x1="428.95" y1="149.38" x2="428.95" y2="229.40" stroke="#666666" stroke-width="1"/>
<line x1="427.35" y1="23.63" x2="430.55" y2="23.63" stroke="#666666" stroke-width="1"/>
<line x1="427.35" y1="229.40" x2="430.55" y2="229.40" stroke="#666666" stroke-width="1"/>
<rect x="426.05" y="57.93" width="5.80" height="91.45" fill="#c8383a" stroke="#4a4a4a" stroke-width="0.7"/>
<line x1="426.05" y1="92.22" x2="431.85" y2="92.22" stroke="#3f3f3f" stroke-width="0.9"/>
<line x1="434.75" y1="23.63" x2="434.75" y2="137.95" stroke="#666666" stroke-width="1"/>
<line x1="434.75" y1="229.40" x2="434.75" y2="229.40" stroke="#666666" stroke-width="1"/>
<line x1="433.15" y1="23.63" x2="436.35" y2="23.63" stroke="#666666" stroke-width="1"/>
<line x1="433.15" y1="229.40" x2="436.35" y2="229.40" stroke="#666666" stroke-width="1"/>
<rect x="431.85" y="137.95" width="5.80" height="91.45" fill="#2d74ab" stroke="#4a4a4a" stroke-width="0.7"/>
<line x1="431.85" y1="183.67" x2="437.65" y2="183.67" stroke="#3f3f3f" stroke-width="0.9"/>
<line x1="444.40" y1="23.63" x2="444.40" y2="57.93" stroke="#666666" stroke-width="1"/>
<line x1="444.40" y1="92.22" x2="444.40" y2="137.95" stroke="#666666" stroke-width="1"/>
<line x1="442.80" y1="23.63" x2="446.00" y2="23.63" stroke="#666666" stroke-width="1"/>
<line x1="442.80" y1="137.95" x2="446.00" y2="137.95" stroke="#666666" stroke-width="1"/>
<rect x="441.50" y="57.93" width="5.80" height="34.29" fill="#c8383a" stroke="#4a4a4a" stroke-width="0.7"/>
<line x1="441.50" y1="69.36" x2="447.30" y2="69.36" stroke="#3f3f3f" stroke-width="0.9"/>
<line x1="450.20" y1="23.63" x2="450.20" y2="69.36" stroke="#666666" stroke-width="1"/>
<line x1="450.20" y1="115.08" x2="450.20" y2="183.67" stroke="#666666" stroke-width="1"/>
<line x1="448.60" y1="23.63" x2="451.80" y2="23.63" stroke="#666666" stroke-width="1"/>
<line x1="448.60" y1="183.67" x2="451.80" y2="183.67" stroke="#666666" stroke-width="1"/>
<rect x="447.30" y="69.36" width="5.80" height="45.73" fill="#2d74ab" stroke="#4a4a4a" stroke-width="0.7"/>
<line x1="447.30" y1="92.22" x2="453.10" y2="92.22" stroke="#3f3f3f" stroke-width="0.9"/>
<line x1="37.80" y1="88.44" x2="455.00" y2="88.44" stroke="#e0262a" stroke-width="1.05" stroke-dasharray="3.85 1.68"/>
<line x1="37.80" y1="97.13" x2="455.00" y2="97.13" stroke="#e0262a" stroke-width="1.05" stroke-dasharray="1.04 1.71"/>
<line x1="37.80" y1="181.83" x2="455.00" y2="181.83" stroke="#3a8ad0" stroke-width="1.05" stroke-dasharray="3.85 1.68"/>
<line x1="37.80" y1="188.35" x2="455.00" y2="188.35" stroke="#3a8ad0" stroke-width="1.05" stroke-dasharray="1.04 1.71"/>
<rect x="37.50" y="12.20" width="417.50" height="217.20" fill="none" stroke="#cccccc" stroke-width="1"/>
<text x="30.30" y="232.50" text-anchor="end" class="tk">0</text>
<text x="30.30" y="189.06" text-anchor="end" class="tk">20</text>
<text x="30.30" y="145.62" text-anchor="end" class="tk">40</text>
<text x="30.30" y="102.18" text-anchor="end" class="tk">60</text>
<text x="30.30" y="58.74" text-anchor="end" class="tk">80</text>
<text x="30.30" y="15.30" text-anchor="end" class="tk">100</text>
<text transform="translate(46.70,238.85) rotate(-90)" text-anchor="end" class="tk">ff94 igb1</text>
<text transform="translate(62.15,238.85) rotate(-90)" text-anchor="end" class="tk">ff94 igb2</text>
<text transform="translate(77.61,238.85) rotate(-90)" text-anchor="end" class="tk">ff94 igb5</text>
<text transform="translate(93.06,238.85) rotate(-90)" text-anchor="end" class="tk">ff94 igb7</text>
<text transform="translate(108.52,238.85) rotate(-90)" text-anchor="end" class="tk">ff94 igb8</text>
<text transform="translate(123.97,238.85) rotate(-90)" text-anchor="end" class="tk">ff96 igb1</text>
<text transform="translate(139.42,238.85) rotate(-90)" text-anchor="end" class="tk">ff96 igb5</text>
<text transform="translate(154.88,238.85) rotate(-90)" text-anchor="end" class="tk">ff98 igb1</text>
<text transform="translate(170.33,238.85) rotate(-90)" text-anchor="end" class="tk">ff98 igb2</text>
<text transform="translate(185.79,238.85) rotate(-90)" text-anchor="end" class="tk">ff98 igb5</text>
<text transform="translate(201.24,238.85) rotate(-90)" text-anchor="end" class="tk">ff98 igb7</text>
<text transform="translate(216.69,238.85) rotate(-90)" text-anchor="end" class="tk">ff98 igb8</text>
<text transform="translate(232.15,237.93) rotate(-90)" text-anchor="end" class="tk">ff99SBnmr igb1</text>
<text transform="translate(247.60,237.93) rotate(-90)" text-anchor="end" class="tk">ff99SBnmr igb2</text>
<text transform="translate(263.06,237.93) rotate(-90)" text-anchor="end" class="tk">ff99SBnmr igb5</text>
<text transform="translate(278.51,237.93) rotate(-90)" text-anchor="end" class="tk">ff99SBnmr igb7</text>
<text transform="translate(293.96,237.93) rotate(-90)" text-anchor="end" class="tk">ff99SBnmr igb8</text>
<text transform="translate(309.42,238.10) rotate(-90)" text-anchor="end" class="tk">ff03.r1 igb1</text>
<text transform="translate(324.87,238.10) rotate(-90)" text-anchor="end" class="tk">ff03.r1 igb2</text>
<text transform="translate(340.33,238.10) rotate(-90)" text-anchor="end" class="tk">ff03.r1 igb5</text>
<text transform="translate(355.78,238.10) rotate(-90)" text-anchor="end" class="tk">ff03.r1 igb7</text>
<text transform="translate(371.23,238.10) rotate(-90)" text-anchor="end" class="tk">ff03.r1 igb8</text>
<text transform="translate(386.69,238.84) rotate(-90)" text-anchor="end" class="tk">ff14SB igb1</text>
<text transform="translate(402.14,238.84) rotate(-90)" text-anchor="end" class="tk">ff14SB igb2</text>
<text transform="translate(417.60,238.84) rotate(-90)" text-anchor="end" class="tk">ff14SB igb5</text>
<text transform="translate(433.05,238.84) rotate(-90)" text-anchor="end" class="tk">ff14SB igb7</text>
<text transform="translate(448.50,238.84) rotate(-90)" text-anchor="end" class="tk">ff14SB igb8</text>
<rect x="41.90" y="200.10" width="54.30" height="25.30" rx="1.5" fill="#ffffff" fill-opacity="0.85" stroke="#d5d5d5" stroke-width="0.8"/>
<rect x="44.65" y="203.85" width="15.3" height="5.3" fill="#c8383a" stroke="#3f3f3f" stroke-width="0.4"/>
<text x="66.85" y="209.25" class="lg">(<tspan font-style="italic">E</tspan><tspan class="sb" dy="1.3">4</tspan><tspan font-style="italic" dy="-1.3">K</tspan><tspan class="sb" dy="1.3">4</tspan><tspan dy="-1.3">)</tspan><tspan class="sb" dx="0.7" dy="1.3">2</tspan></text>
<rect x="44.65" y="215.45" width="15.3" height="5.3" fill="#2d74ab" stroke="#3f3f3f" stroke-width="0.4"/>
<text x="66.85" y="220.85" class="lg">(<tspan font-style="italic">K</tspan><tspan class="sb" dy="1.3">4</tspan><tspan font-style="italic" dy="-1.3">E</tspan><tspan class="sb" dy="1.3">4</tspan><tspan dy="-1.3">)</tspan><tspan class="sb" dx="0.7" dy="1.3">2</tspan></text>
<line x1="521.60" y1="186.68" x2="695.90" y2="186.68" stroke="#dddddd" stroke-width="0.9" stroke-dasharray="2.3 1.5"/>
<line x1="521.60" y1="143.16" x2="695.90" y2="143.16" stroke="#dddddd" stroke-width="0.9" stroke-dasharray="2.3 1.5"/>
<line x1="521.60" y1="99.64" x2="695.90" y2="99.64" stroke="#dddddd" stroke-width="0.9" stroke-dasharray="2.3 1.5"/>
<line x1="521.60" y1="56.12" x2="695.90" y2="56.12" stroke="#dddddd" stroke-width="0.9" stroke-dasharray="2.3 1.5"/>
<line x1="528.63" y1="28.72" x2="528.63" y2="93.19" stroke="#666666" stroke-width="1"/>
<line x1="528.63" y1="141.55" x2="528.63" y2="197.96" stroke="#666666" stroke-width="1"/>
<line x1="526.33" y1="28.72" x2="530.93" y2="28.72" stroke="#666666" stroke-width="1"/>
<line x1="526.33" y1="197.96" x2="530.93" y2="197.96" stroke="#666666" stroke-width="1"/>
<rect x="524.53" y="93.19" width="8.20" height="48.36" fill="#c8383a" stroke="#4a4a4a" stroke-width="0.7"/>
<line x1="524.53" y1="117.37" x2="532.73" y2="117.37" stroke="#3f3f3f" stroke-width="0.9"/>
<line x1="536.87" y1="36.78" x2="536.87" y2="77.07" stroke="#666666" stroke-width="1"/>
<line x1="536.87" y1="117.37" x2="536.87" y2="173.79" stroke="#666666" stroke-width="1"/>
<line x1="534.57" y1="36.78" x2="539.17" y2="36.78" stroke="#666666" stroke-width="1"/>
<line x1="534.57" y1="173.79" x2="539.17" y2="173.79" stroke="#666666" stroke-width="1"/>
<rect x="532.77" y="77.07" width="8.20" height="40.30" fill="#2d74ab" stroke="#4a4a4a" stroke-width="0.7"/>
<line x1="532.77" y1="93.19" x2="540.97" y2="93.19" stroke="#3f3f3f" stroke-width="0.9"/>
<line x1="550.46" y1="20.66" x2="550.46" y2="77.07" stroke="#666666" stroke-width="1"/>
<line x1="550.46" y1="133.49" x2="550.46" y2="197.96" stroke="#666666" stroke-width="1"/>
<line x1="548.16" y1="20.66" x2="552.76" y2="20.66" stroke="#666666" stroke-width="1"/>
<line x1="548.16" y1="197.96" x2="552.76" y2="197.96" stroke="#666666" stroke-width="1"/>
<rect x="546.36" y="77.07" width="8.20" height="56.41" fill="#c8383a" stroke="#4a4a4a" stroke-width="0.7"/>
<line x1="546.36" y1="101.25" x2="554.56" y2="101.25" stroke="#3f3f3f" stroke-width="0.9"/>
<line x1="558.70" y1="20.66" x2="558.70" y2="77.07" stroke="#666666" stroke-width="1"/>
<line x1="558.70" y1="133.49" x2="558.70" y2="197.96" stroke="#666666" stroke-width="1"/>
<line x1="556.40" y1="20.66" x2="561.00" y2="20.66" stroke="#666666" stroke-width="1"/>
<line x1="556.40" y1="197.96" x2="561.00" y2="197.96" stroke="#666666" stroke-width="1"/>
<rect x="554.60" y="77.07" width="8.20" height="56.41" fill="#2d74ab" stroke="#4a4a4a" stroke-width="0.7"/>
<line x1="554.60" y1="101.25" x2="562.80" y2="101.25" stroke="#3f3f3f" stroke-width="0.9"/>
<line x1="572.29" y1="20.66" x2="572.29" y2="60.96" stroke="#666666" stroke-width="1"/>
<line x1="572.29" y1="117.37" x2="572.29" y2="197.96" stroke="#666666" stroke-width="1"/>
<line x1="569.99" y1="20.66" x2="574.59" y2="20.66" stroke="#666666" stroke-width="1"/>
<line x1="569.99" y1="197.96" x2="574.59" y2="197.96" stroke="#666666" stroke-width="1"/>
<rect x="568.19" y="60.96" width="8.20" height="56.41" fill="#c8383a" stroke="#4a4a4a" stroke-width="0.7"/>
<line x1="568.19" y1="85.13" x2="576.39" y2="85.13" stroke="#3f3f3f" stroke-width="0.9"/>
<line x1="580.53" y1="20.66" x2="580.53" y2="69.01" stroke="#666666" stroke-width="1"/>
<line x1="580.53" y1="125.43" x2="580.53" y2="197.96" stroke="#666666" stroke-width="1"/>
<line x1="578.23" y1="20.66" x2="582.83" y2="20.66" stroke="#666666" stroke-width="1"/>
<line x1="578.23" y1="197.96" x2="582.83" y2="197.96" stroke="#666666" stroke-width="1"/>
<rect x="576.43" y="69.01" width="8.20" height="56.41" fill="#2d74ab" stroke="#4a4a4a" stroke-width="0.7"/>
<line x1="576.43" y1="101.25" x2="584.63" y2="101.25" stroke="#3f3f3f" stroke-width="0.9"/>
<line x1="594.12" y1="36.78" x2="594.12" y2="85.13" stroke="#666666" stroke-width="1"/>
<line x1="594.12" y1="117.37" x2="594.12" y2="165.73" stroke="#666666" stroke-width="1"/>
<line x1="591.82" y1="36.78" x2="596.42" y2="36.78" stroke="#666666" stroke-width="1"/>
<line x1="591.82" y1="165.73" x2="596.42" y2="165.73" stroke="#666666" stroke-width="1"/>
<rect x="590.02" y="85.13" width="8.20" height="32.24" fill="#c8383a" stroke="#4a4a4a" stroke-width="0.7"/>
<line x1="590.02" y1="93.19" x2="598.22" y2="93.19" stroke="#3f3f3f" stroke-width="0.9"/>
<line x1="602.36" y1="52.90" x2="602.36" y2="101.25" stroke="#666666" stroke-width="1"/>
<line x1="602.36" y1="133.49" x2="602.36" y2="181.84" stroke="#666666" stroke-width="1"/>
<line x1="600.06" y1="52.90" x2="604.66" y2="52.90" stroke="#666666" stroke-width="1"/>
<line x1="600.06" y1="181.84" x2="604.66" y2="181.84" stroke="#666666" stroke-width="1"/>
<rect x="598.26" y="101.25" width="8.20" height="32.24" fill="#2d74ab" stroke="#4a4a4a" stroke-width="0.7"/>
<line x1="598.26" y1="117.37" x2="606.46" y2="117.37" stroke="#3f3f3f" stroke-width="0.9"/>
<line x1="615.95" y1="20.66" x2="615.95" y2="93.19" stroke="#666666" stroke-width="1"/>
<line x1="615.95" y1="157.67" x2="615.95" y2="230.20" stroke="#666666" stroke-width="1"/>
<line x1="613.65" y1="20.66" x2="618.25" y2="20.66" stroke="#666666" stroke-width="1"/>
<line x1="613.65" y1="230.20" x2="618.25" y2="230.20" stroke="#666666" stroke-width="1"/>
<rect x="611.85" y="93.19" width="8.20" height="64.47" fill="#c8383a" stroke="#4a4a4a" stroke-width="0.7"/>
<line x1="611.85" y1="125.43" x2="620.05" y2="125.43" stroke="#3f3f3f" stroke-width="0.9"/>
<line x1="624.19" y1="20.66" x2="624.19" y2="101.25" stroke="#666666" stroke-width="1"/>
<line x1="624.19" y1="165.73" x2="624.19" y2="230.20" stroke="#666666" stroke-width="1"/>
<line x1="621.89" y1="20.66" x2="626.49" y2="20.66" stroke="#666666" stroke-width="1"/>
<line x1="621.89" y1="230.20" x2="626.49" y2="230.20" stroke="#666666" stroke-width="1"/>
<rect x="620.09" y="101.25" width="8.20" height="64.47" fill="#2d74ab" stroke="#4a4a4a" stroke-width="0.7"/>
<line x1="620.09" y1="125.43" x2="628.29" y2="125.43" stroke="#3f3f3f" stroke-width="0.9"/>
<line x1="637.78" y1="20.66" x2="637.78" y2="77.07" stroke="#666666" stroke-width="1"/>
<line x1="637.78" y1="133.49" x2="637.78" y2="197.96" stroke="#666666" stroke-width="1"/>
<line x1="635.48" y1="20.66" x2="640.08" y2="20.66" stroke="#666666" stroke-width="1"/>
<line x1="635.48" y1="197.96" x2="640.08" y2="197.96" stroke="#666666" stroke-width="1"/>
<rect x="633.68" y="77.07" width="8.20" height="56.41" fill="#c8383a" stroke="#4a4a4a" stroke-width="0.7"/>
<line x1="633.68" y1="101.25" x2="641.88" y2="101.25" stroke="#3f3f3f" stroke-width="0.9"/>
<line x1="646.02" y1="60.96" x2="646.02" y2="117.37" stroke="#666666" stroke-width="1"/>
<line x1="646.02" y1="157.67" x2="646.02" y2="197.96" stroke="#666666" stroke-width="1"/>
<line x1="643.72" y1="60.96" x2="648.32" y2="60.96" stroke="#666666" stroke-width="1"/>
<line x1="643.72" y1="197.96" x2="648.32" y2="197.96" stroke="#666666" stroke-width="1"/>
<rect x="641.92" y="117.37" width="8.20" height="40.30" fill="#2d74ab" stroke="#4a4a4a" stroke-width="0.7"/>
<line x1="641.92" y1="141.55" x2="650.12" y2="141.55" stroke="#3f3f3f" stroke-width="0.9"/>
<line x1="659.61" y1="20.66" x2="659.61" y2="52.90" stroke="#666666" stroke-width="1"/>
<line x1="659.61" y1="85.13" x2="659.61" y2="133.49" stroke="#666666" stroke-width="1"/>
<line x1="657.31" y1="20.66" x2="661.91" y2="20.66" stroke="#666666" stroke-width="1"/>
<line x1="657.31" y1="133.49" x2="661.91" y2="133.49" stroke="#666666" stroke-width="1"/>
<rect x="655.51" y="52.90" width="8.20" height="32.24" fill="#c8383a" stroke="#4a4a4a" stroke-width="0.7"/>
<line x1="655.51" y1="60.96" x2="663.71" y2="60.96" stroke="#3f3f3f" stroke-width="0.9"/>
<line x1="667.85" y1="28.72" x2="667.85" y2="77.07" stroke="#666666" stroke-width="1"/>
<line x1="667.85" y1="165.73" x2="667.85" y2="230.20" stroke="#666666" stroke-width="1"/>
<line x1="665.55" y1="28.72" x2="670.15" y2="28.72" stroke="#666666" stroke-width="1"/>
<line x1="665.55" y1="230.20" x2="670.15" y2="230.20" stroke="#666666" stroke-width="1"/>
<rect x="663.75" y="77.07" width="8.20" height="88.65" fill="#2d74ab" stroke="#4a4a4a" stroke-width="0.7"/>
<line x1="663.75" y1="109.31" x2="671.95" y2="109.31" stroke="#3f3f3f" stroke-width="0.9"/>
<line x1="681.44" y1="20.66" x2="681.44" y2="52.90" stroke="#666666" stroke-width="1"/>
<line x1="681.44" y1="85.13" x2="681.44" y2="133.49" stroke="#666666" stroke-width="1"/>
<line x1="679.14" y1="20.66" x2="683.74" y2="20.66" stroke="#666666" stroke-width="1"/>
<line x1="679.14" y1="133.49" x2="683.74" y2="133.49" stroke="#666666" stroke-width="1"/>
<rect x="677.34" y="52.90" width="8.20" height="32.24" fill="#c8383a" stroke="#4a4a4a" stroke-width="0.7"/>
<line x1="677.34" y1="69.01" x2="685.54" y2="69.01" stroke="#3f3f3f" stroke-width="0.9"/>
<line x1="689.68" y1="20.66" x2="689.68" y2="52.90" stroke="#666666" stroke-width="1"/>
<line x1="689.68" y1="85.13" x2="689.68" y2="133.49" stroke="#666666" stroke-width="1"/>
<line x1="687.38" y1="20.66" x2="691.98" y2="20.66" stroke="#666666" stroke-width="1"/>
<line x1="687.38" y1="133.49" x2="691.98" y2="133.49" stroke="#666666" stroke-width="1"/>
<rect x="685.58" y="52.90" width="8.20" height="32.24" fill="#2d74ab" stroke="#4a4a4a" stroke-width="0.7"/>
<line x1="685.58" y1="69.01" x2="693.78" y2="69.01" stroke="#3f3f3f" stroke-width="0.9"/>
<line x1="521.90" y1="69.39" x2="695.90" y2="69.39" stroke="#e0262a" stroke-width="1.05" stroke-dasharray="3.85 1.68"/>
<line x1="521.90" y1="93.33" x2="695.90" y2="93.33" stroke="#e0262a" stroke-width="1.05" stroke-dasharray="1.04 1.71"/>
<line x1="521.90" y1="95.51" x2="695.90" y2="95.51" stroke="#3a8ad0" stroke-width="1.05" stroke-dasharray="3.85 1.68"/>
<line x1="521.90" y1="112.91" x2="695.90" y2="112.91" stroke="#3a8ad0" stroke-width="1.05" stroke-dasharray="1.04 1.71"/>
<rect x="521.60" y="12.60" width="174.30" height="217.60" fill="none" stroke="#cccccc" stroke-width="1"/>
<text x="514.20" y="233.50" text-anchor="end" class="tk">0</text>
<text x="514.20" y="189.98" text-anchor="end" class="tk">20</text>
<text x="514.20" y="146.46" text-anchor="end" class="tk">40</text>
<text x="514.20" y="102.94" text-anchor="end" class="tk">60</text>
<text x="514.20" y="59.42" text-anchor="end" class="tk">80</text>
<text x="514.20" y="15.90" text-anchor="end" class="tk">100</text>
<text transform="translate(534.75,238.10) rotate(-90)" text-anchor="end" class="tk">ff03.r1 igb1</text>
<text transform="translate(556.58,238.10) rotate(-90)" text-anchor="end" class="tk">ff03.r1 igb2</text>
<text transform="translate(578.41,238.10) rotate(-90)" text-anchor="end" class="tk">ff03.r1 igb5</text>
<text transform="translate(600.24,238.84) rotate(-90)" text-anchor="end" class="tk">ff14SB igb1</text>
<text transform="translate(622.07,238.84) rotate(-90)" text-anchor="end" class="tk">ff14SB igb2</text>
<text transform="translate(643.90,238.84) rotate(-90)" text-anchor="end" class="tk">ff14SB igb5</text>
<text transform="translate(665.73,238.84) rotate(-90)" text-anchor="end" class="tk">ff14SB igb7</text>
<text transform="translate(687.56,238.84) rotate(-90)" text-anchor="end" class="tk">ff14SB igb8</text>
<rect x="525.30" y="201.20" width="54.20" height="24.70" rx="1.5" fill="#ffffff" fill-opacity="0.85" stroke="#d5d5d5" stroke-width="0.8"/>
<rect x="528.05" y="204.95" width="15.3" height="5.3" fill="#c8383a" stroke="#3f3f3f" stroke-width="0.4"/>
<text x="550.25" y="210.35" class="lg">(<tspan font-style="italic">E</tspan><tspan class="sb" dy="1.3">4</tspan><tspan font-style="italic" dy="-1.3">K</tspan><tspan class="sb" dy="1.3">4</tspan><tspan dy="-1.3">)</tspan><tspan class="sb" dx="0.7" dy="1.3">3</tspan></text>
<rect x="528.05" y="216.55" width="15.3" height="5.3" fill="#2d74ab" stroke="#3f3f3f" stroke-width="0.4"/>
<text x="550.25" y="221.95" class="lg">(<tspan font-style="italic">K</tspan><tspan class="sb" dy="1.3">4</tspan><tspan font-style="italic" dy="-1.3">E</tspan><tspan class="sb" dy="1.3">4</tspan><tspan dy="-1.3">)</tspan><tspan class="sb" dx="0.7" dy="1.3">3</tspan></text>
<circle cx="308.22" cy="17.00" r="0.85" fill="#222"/>
<line x1="308.22" y1="14.85" x2="308.22" y2="19.15" stroke="#222" stroke-width="0.9" stroke-linecap="round"/>
<line x1="306.36" y1="15.93" x2="310.08" y2="18.07" stroke="#222" stroke-width="0.9" stroke-linecap="round"/>
<line x1="310.08" y1="15.93" x2="306.36" y2="18.07" stroke="#222" stroke-width="0.9" stroke-linecap="round"/>
<circle cx="323.67" cy="17.00" r="0.85" fill="#222"/>
<line x1="323.67" y1="14.85" x2="323.67" y2="19.15" stroke="#222" stroke-width="0.9" stroke-linecap="round"/>
<line x1="321.81" y1="15.93" x2="325.53" y2="18.07" stroke="#222" stroke-width="0.9" stroke-linecap="round"/>
<line x1="325.53" y1="15.93" x2="321.81" y2="18.07" stroke="#222" stroke-width="0.9" stroke-linecap="round"/>
<circle cx="339.13" cy="17.00" r="0.85" fill="#222"/>
<line x1="339.13" y1="14.85" x2="339.13" y2="19.15" stroke="#222" stroke-width="0.9" stroke-linecap="round"/>
<line x1="337.26" y1="15.93" x2="340.99" y2="18.07" stroke="#222" stroke-width="0.9" stroke-linecap="round"/>
<line x1="340.99" y1="15.93" x2="337.26" y2="18.07" stroke="#222" stroke-width="0.9" stroke-linecap="round"/>
<circle cx="385.49" cy="17.00" r="0.85" fill="#222"/>
<line x1="385.49" y1="14.85" x2="385.49" y2="19.15" stroke="#222" stroke-width="0.9" stroke-linecap="round"/>
<line x1="383.63" y1="15.93" x2="387.35" y2="18.07" stroke="#222" stroke-width="0.9" stroke-linecap="round"/>
<line x1="387.35" y1="15.93" x2="383.63" y2="18.07" stroke="#222" stroke-width="0.9" stroke-linecap="round"/>
<circle cx="400.94" cy="17.00" r="0.85" fill="#222"/>
<line x1="400.94" y1="14.85" x2="400.94" y2="19.15" stroke="#222" stroke-width="0.9" stroke-linecap="round"/>
<line x1="399.08" y1="15.93" x2="402.80" y2="18.07" stroke="#222" stroke-width="0.9" stroke-linecap="round"/>
<line x1="402.80" y1="15.93" x2="399.08" y2="18.07" stroke="#222" stroke-width="0.9" stroke-linecap="round"/>
<circle cx="416.40" cy="17.00" r="0.85" fill="#222"/>
<line x1="416.40" y1="14.85" x2="416.40" y2="19.15" stroke="#222" stroke-width="0.9" stroke-linecap="round"/>
<line x1="414.53" y1="15.93" x2="418.26" y2="18.07" stroke="#222" stroke-width="0.9" stroke-linecap="round"/>
<line x1="418.26" y1="15.93" x2="414.53" y2="18.07" stroke="#222" stroke-width="0.9" stroke-linecap="round"/>
<circle cx="431.85" cy="17.00" r="0.85" fill="#222"/>
<line x1="431.85" y1="14.85" x2="431.85" y2="19.15" stroke="#222" stroke-width="0.9" stroke-linecap="round"/>
<line x1="429.99" y1="15.93" x2="433.71" y2="18.07" stroke="#222" stroke-width="0.9" stroke-linecap="round"/>
<line x1="433.71" y1="15.93" x2="429.99" y2="18.07" stroke="#222" stroke-width="0.9" stroke-linecap="round"/>
<circle cx="447.30" cy="17.00" r="0.85" fill="#222"/>
<line x1="447.30" y1="14.85" x2="447.30" y2="19.15" stroke="#222" stroke-width="0.9" stroke-linecap="round"/>
<line x1="445.44" y1="15.93" x2="449.17" y2="18.07" stroke="#222" stroke-width="0.9" stroke-linecap="round"/>
<line x1="449.17" y1="15.93" x2="445.44" y2="18.07" stroke="#222" stroke-width="0.9" stroke-linecap="round"/>
<text transform="translate(12.2,121) rotate(-90)" text-anchor="middle" class="at">Helicity (%)</text>
<text transform="translate(496.0,121.0) rotate(-90)" text-anchor="middle" class="at">Helicity (%)</text>
<text x="248.3" y="299.6" text-anchor="middle" class="at">GB model–force field combinations</text>
<text x="610.7" y="286.8" text-anchor="middle" class="at">GB model–force field combinations</text>
</svg></body></html>
